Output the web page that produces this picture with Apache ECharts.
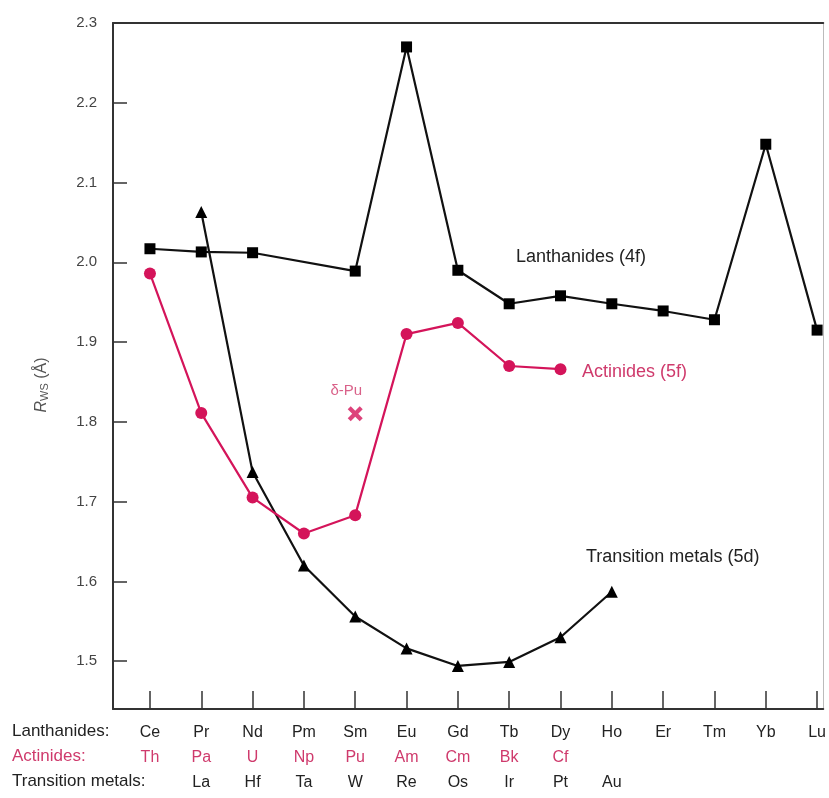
<!DOCTYPE html>
<html>
<head>
<meta charset="utf-8">
<style>
html,body{margin:0;padding:0;background:#fff;}
#chart{width:829px;height:798px;}
</style>
<script src="https://cdn.jsdelivr.net/npm/echarts@6/dist/echarts.min.js"></script>
</head>
<body>
<div id="chart"></div>
<script>
// ---- data ----
const lanthanides = ['Ce','Pr','Nd','Pm','Sm','Eu','Gd','Tb','Dy','Ho','Er','Tm','Yb','Lu'];
const actinides   = ['Th','Pa','U','Np','Pu','Am','Cm','Bk','Cf','','','','',''];
const transition  = ['','La','Hf','Ta','W','Re','Os','Ir','Pt','Au','','','',''];

const lanValues = [2.017, 2.013, 2.012, null, 1.989, 2.270, 1.990, 1.948, 1.958, 1.948, 1.939, 1.928, 2.148, 1.915];
const actValues = [1.986, 1.811, 1.705, 1.660, 1.683, 1.910, 1.924, 1.870, 1.866];
const tmValues  = [null, 2.063, 1.737, 1.620, 1.556, 1.516, 1.494, 1.499, 1.530, 1.587];
const deltaPuIndex = 4;
const deltaPuValue = 1.810;

const yTicks = [1.5, 1.6, 1.7, 1.8, 1.9, 2.0, 2.1, 2.2, 2.3];
const xTicks = lanthanides.map((_, i) => i);

// ---- styles ----
const RED = '#d4145a';
const RED_TEXT = '#cf3a6c';
const FONT = '"Liberation Sans", Arial, sans-serif';

function toPairs(arr) {
  return arr.map((v, i) => v == null ? null : [i, v]).filter(p => p);
}

const chart = echarts.init(document.getElementById('chart'), null, {renderer: 'canvas'});

chart.setOption({
  animation: false,
  backgroundColor: '#fff',
  textStyle: {fontFamily: FONT},
  grid: {left: 113, right: 5, top: 23, bottom: 89, containLabel: false},
  xAxis: [{
    type: 'value',
    min: -0.72, max: 13.12,
    splitLine: {show: false},
    axisLine: {show: true, onZero: false, lineStyle: {color: '#333', width: 2}},
    axisTick: {show: true, inside: true, length: 18, customValues: xTicks, lineStyle: {color: '#333', width: 1.5}},
    axisLabel: {
      show: true, margin: 11, customValues: xTicks, fontFamily: FONT,
      formatter: function (v) {
        const i = Math.round(v);
        const a = actinides[i] || ' ';
        const t = transition[i] || ' ';
        return '{l|' + lanthanides[i] + '}\n{a|' + a + '}\n{t|' + t + '}';
      },
      rich: {
        l: {fontSize: 16, color: '#222', lineHeight: 25, fontFamily: FONT},
        a: {fontSize: 16, color: RED_TEXT, lineHeight: 25, fontFamily: FONT},
        t: {fontSize: 16, color: '#222', lineHeight: 25, fontFamily: FONT}
      }
    }
  }, {
    type: 'value', position: 'top',
    min: -0.72, max: 13.12,
    splitLine: {show: false},
    axisLine: {show: true, onZero: false, lineStyle: {color: '#333', width: 2}},
    axisTick: {show: false}, axisLabel: {show: false}
  }],
  yAxis: [{
    type: 'value',
    min: 1.44, max: 2.3,
    splitLine: {show: false},
    axisLine: {show: true, onZero: false, lineStyle: {color: '#333', width: 2}},
    axisTick: {show: true, inside: true, length: 14, customValues: yTicks, lineStyle: {color: '#333', width: 1.5}},
    axisLabel: {
      show: true, margin: 16, customValues: yTicks, fontSize: 15, color: '#444', fontFamily: FONT,
      formatter: v => v.toFixed(1)
    }
  }, {
    type: 'value', position: 'right',
    min: 1.44, max: 2.3,
    splitLine: {show: false},
    axisLine: {show: true, onZero: false, lineStyle: {color: '#bbb', width: 1}},
    axisTick: {show: false}, axisLabel: {show: false}
  }],
  series: [{
    name: 'Lanthanides (4f)',
    type: 'line',
    data: toPairs(lanValues),
    symbol: 'rect', symbolSize: 11,
    lineStyle: {color: '#111', width: 2.2},
    itemStyle: {color: '#000'},
    z: 3
  }, {
    name: 'Transition metals (5d)',
    type: 'line',
    data: toPairs(tmValues),
    symbol: 'triangle', symbolSize: 12,
    lineStyle: {color: '#111', width: 2.2},
    itemStyle: {color: '#000'},
    z: 3
  }, {
    name: 'Actinides (5f)',
    type: 'line',
    data: toPairs(actValues),
    symbol: 'circle', symbolSize: 12,
    lineStyle: {color: RED, width: 2.2},
    itemStyle: {color: RED},
    z: 4
  }, {
    name: 'δ-Pu',
    type: 'scatter',
    data: [[deltaPuIndex, deltaPuValue]],
    symbol: 'path://M2,0 L5,3 L8,0 L10,2 L7,5 L10,8 L8,10 L5,7 L2,10 L0,8 L3,5 L0,2 Z',
    symbolSize: 15,
    itemStyle: {color: RED},
    label: {
      show: true, position: 'top', distance: 8, offset: [-9, 0],
      formatter: 'δ-Pu', color: RED_TEXT, fontSize: 15, fontFamily: FONT
    },
    z: 5
  }],
  graphic: [
    {type: 'text', left: 12, top: 723, style: {text: 'Lanthanides:', fontSize: 17, fill: '#222', fontFamily: FONT}},
    {type: 'text', left: 12, top: 748, style: {text: 'Actinides:', fontSize: 17, fill: RED_TEXT, fontFamily: FONT}},
    {type: 'text', left: 12, top: 773, style: {text: 'Transition metals:', fontSize: 17, fill: '#222', fontFamily: FONT}},
    {type: 'text', left: 516, top: 248, style: {text: 'Lanthanides (4f)', fontSize: 18, fill: '#222', fontFamily: FONT}},
    {type: 'text', left: 582, top: 363, style: {text: 'Actinides (5f)', fontSize: 18, fill: RED_TEXT, fontFamily: FONT}},
    {type: 'text', left: 586, top: 548, style: {text: 'Transition metals (5d)', fontSize: 18, fill: '#222', fontFamily: FONT}},
    {
      type: 'text', x: 42, y: 385, rotation: Math.PI / 2,
      style: {
        text: '{r|R}{s|WS}{n| (Å)}',
        align: 'center', verticalAlign: 'middle',
        rich: {
          r: {fontSize: 16, fontStyle: 'italic', fill: '#555', fontFamily: FONT},
          s: {fontSize: 11, fill: '#555', fontFamily: FONT, padding: [6, 0, 0, 0]},
          n: {fontSize: 16, fill: '#555', fontFamily: FONT}
        }
      }
    }
  ]
});
</script>
</body>
</html>
